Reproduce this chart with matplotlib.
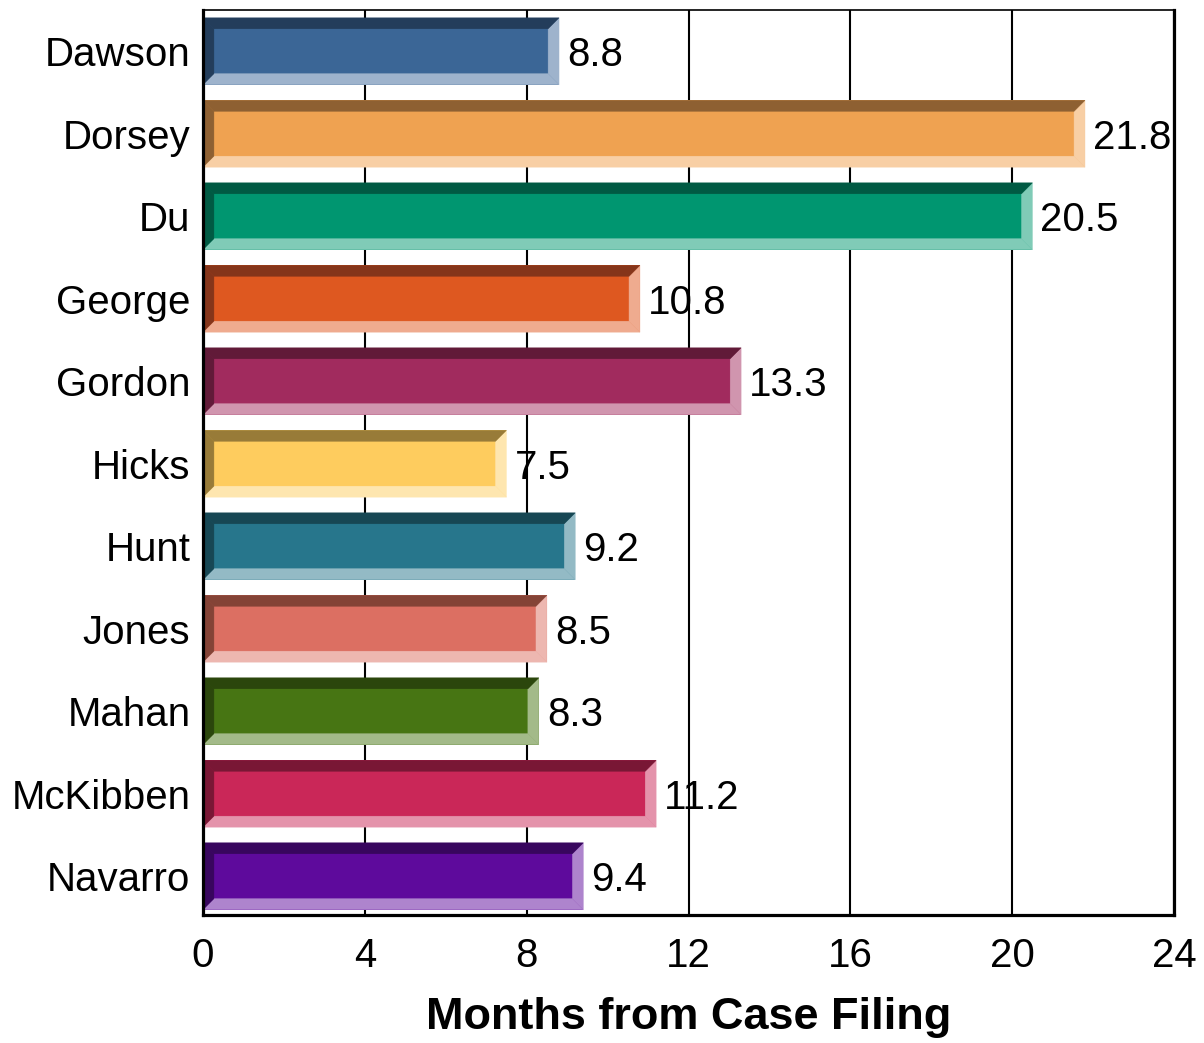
import matplotlib
matplotlib.use("Agg")
import matplotlib.pyplot as plt
from matplotlib.patches import Polygon

plt.rcParams['font.family'] = ['Liberation Sans', 'DejaVu Sans']

names = ["Dawson", "Dorsey", "Du", "George", "Gordon", "Hicks", "Hunt",
         "Jones", "Mahan", "McKibben", "Navarro"]
values = [8.8, 21.8, 20.5, 10.8, 13.3, 7.5, 9.2, 8.5, 8.3, 11.2, 9.4]
face_colors = ["#3B6696", "#EFA251", "#009670", "#DE5820", "#A12B5E", "#FECC5E",
               "#27768C", "#DC6F62", "#477513", "#CA2758", "#5E0A9C"]
dark_colors = ["#233D5B", "#8E6032", "#005A43", "#85351A", "#611A38", "#987B38",
               "#174754", "#844336", "#2B460C", "#791735", "#38065E"]
light_colors = ["#9EB3CC", "#F8CFA5", "#80CBB7", "#EFAB8F", "#D095AE", "#FEE6AF",
                "#93BAC5", "#EDB7B0", "#A3BA89", "#E493AB", "#AE84CD"]
xticks = [0, 4, 8, 12, 16, 20, 24]
xlabel = "Months from Case Filing"

fig = plt.figure(figsize=(12.04, 10.43), dpi=100)
ax = fig.add_axes([203/1204, 1 - 915/1043, (1174-203)/1204, (915-10)/1043])

h = 0.81
bx = 0.27   # bevel width in x data units
by = 0.133  # bevel width in y data units
ys = list(range(len(names)))

ax.barh(ys, values, height=h, color=face_colors, zorder=3, linewidth=0)

for y, v, dc, lc in zip(ys, values, dark_colors, light_colors):
    yt = y - h / 2
    yb = y + h / 2
    x0, x1 = 0, v
    top = [(x0, yt), (x1, yt), (x1 - bx, yt + by), (x0 + bx, yt + by)]
    left = [(x0, yt), (x0 + bx, yt + by), (x0 + bx, yb - by), (x0, yb)]
    right = [(x1, yt), (x1, yb), (x1 - bx, yb - by), (x1 - bx, yt + by)]
    bottom = [(x0, yb), (x1, yb), (x1 - bx, yb - by), (x0 + bx, yb - by)]
    for pts, c in ((right, lc), (bottom, lc), (top, dc), (left, dc)):
        ax.add_patch(Polygon(pts, closed=True, facecolor=c, edgecolor=c,
                             linewidth=0.3, zorder=4))
    ax.text(v + 0.2, y + 0.05, f"{v:.1f}", va="center", ha="left", fontsize=29,
            color="black", zorder=5)

ax.set_xlim(0, 24)
ax.set_ylim(10.47, -0.5)
ax.set_xticks(xticks)
ax.set_xticklabels([str(t) for t in xticks], fontsize=29)
ax.set_yticks(ys)
ax.set_yticklabels(names, fontsize=29)
for lab in ax.get_yticklabels():
    lab.set_verticalalignment("center_baseline")
ax.tick_params(axis="both", length=0)
ax.tick_params(axis="x", pad=16)
ax.tick_params(axis="y", pad=9)

ax.xaxis.grid(True, color="black", linewidth=1.5, zorder=1)
ax.set_axisbelow(True)

for s in ("left", "bottom"):
    ax.spines[s].set_linewidth(2.3)
    ax.spines[s].set_zorder(6)
ax.spines["right"].set_linewidth(2.3)
ax.spines["top"].set_linewidth(1.2)

ax.set_xlabel(xlabel, fontsize=32.5, fontweight="bold", labelpad=16)

fig.savefig("out.png", dpi=100)
